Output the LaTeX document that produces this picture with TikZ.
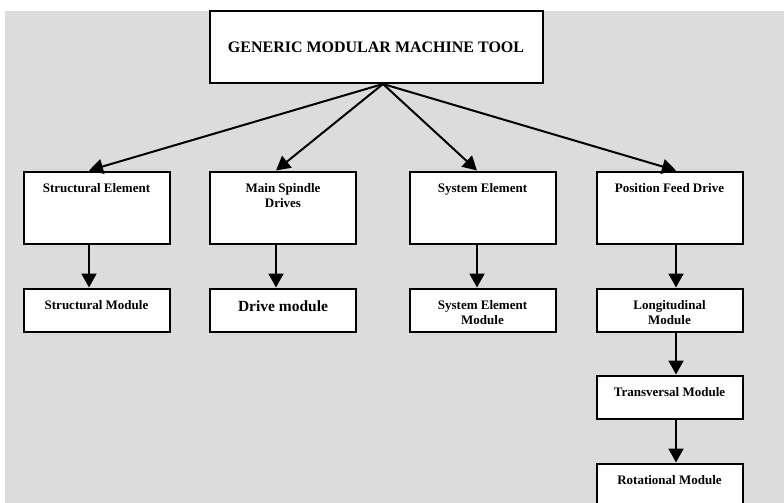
\documentclass[tikz,border=0pt]{standalone}
\usepackage{fontspec}
\setmainfont{Liberation Serif}
\usepackage{tikz}
\usetikzlibrary{arrows.meta}
\definecolor{bggrey}{RGB}{220,220,220}

\begin{document}
\begin{tikzpicture}[x=1pt, y=1pt, >={Triangle[width=15pt,length=14pt]},
  box/.style={draw, fill=white, line width=2pt, minimum width=146pt,
    minimum height=#1, inner sep=0pt},
  lbl/.style={anchor=north, align=center, inner sep=0pt, yshift=-13pt,
    font=\fontsize{13}{15}\selectfont\bfseries},
  link/.style={->, line width=2pt}]
  \useasboundingbox (0,0) rectangle (784,-503);
  \fill[bggrey] (5,-11) rectangle (784,-503);
  \node[box=72pt, minimum width=333pt, font=\fontsize{16}{19}\selectfont\bfseries]
    (gm) at (376,-47) {GENERIC MODULAR MACHINE TOOL};
  \foreach \n/\x/\dx/\txa/\txb in {
      se/96.5/-7.5/{Structural Element}/{Structural Module},
      ms/283/-7/{Main Spindle\\Drives}/{\fontsize{15.5}{18}\selectfont Drive module},
      sy/482.5/-5.5/{System Element}/{System Element\\Module},
      pf/669.5/6.5/{Position Feed Drive}/{Longitudinal\\Module}} {
    \node[box=72pt, label={[lbl]north:\txa}] (\n) at (\x,-207.5) {};
    \node[box=43pt, label={[lbl]north:\txb}] (\n2) at (\x,-310) {};
    \draw[link] ([xshift=7pt]gm.south) -- ([xshift=\dx pt]\n.north);
    \draw[link] ([xshift=\dx pt]\n.south) -- ([xshift=\dx pt]\n2.north);
  }
  \node[box=43pt, label={[lbl]north:Transversal Module}] (tm) at (669.5,-397) {};
  \node[box=43pt, label={[lbl]north:Rotational Module}] (rm) at (669.5,-485) {};
  \draw[link] ([xshift=6.5pt]pf2.south) -- ([xshift=6.5pt]tm.north);
  \draw[link] ([xshift=6.5pt]tm.south) -- ([xshift=6.5pt]rm.north);
\end{tikzpicture}
\end{document}
